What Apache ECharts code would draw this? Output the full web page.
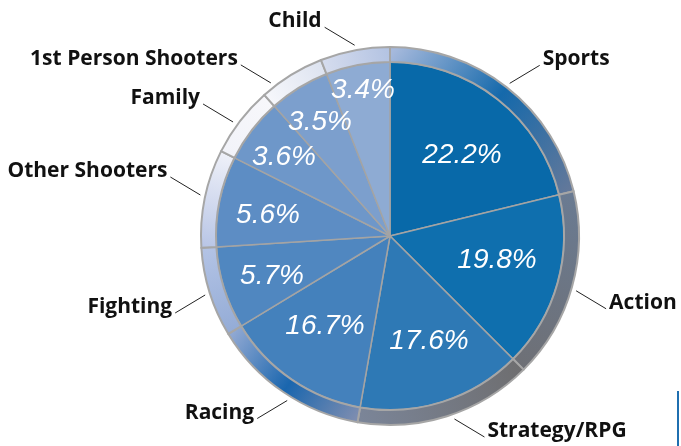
<!DOCTYPE html>
<html>
<head>
<meta charset="utf-8">
<script src="https://cdn.jsdelivr.net/npm/echarts@6/dist/echarts.min.js"></script>
<style>
  html, body { margin: 0; padding: 0; background: #fff; }
  #chart { width: 681px; height: 446px; }
</style>
</head>
<body>
<div id="chart"></div>
<script>
// categories, clockwise from 12 o'clock
const categories = ['Sports', 'Action', 'Strategy/RPG', 'Racing', 'Fighting', 'Other Shooters', 'Family', '1st Person Shooters', 'Child'];
// printed shares (%)
const shares = [22.2, 19.8, 17.6, 16.7, 5.7, 5.6, 3.6, 3.5, 3.4];
// slice sizes as drawn in the artwork (degrees) - the picture isn't drawn to scale
const sliceDegrees = [76.3, 58.7, 54.9, 48.9, 27.6, 30.3, 21.6, 20.3, 21.4];

const CX = 390, CY = 236;
const R_IN = 174, R_OUT = 189;

const sliceColors = ['#0869a9', '#0f6fae', '#2e79b5', '#4481bc', '#5087c0', '#5d8dc4', '#6e97c9', '#7c9fcd', '#8eabd3'];
// rim gradient stops, clockwise along each segment
const rimColors = [
  ['#a6b9dc', '#1569ab', '#62789a'],
  ['#6a7b92', '#6e7076'],
  ['#6e6e70', '#7b8598'],
  ['#7d8db0', '#1a66ae', '#90a8d2'],
  ['#94acd6', '#b3c3e5'],
  ['#b9c6e6', '#eef0f8'],
  ['#f2f3f9', '#f7f7fb'],
  ['#f6f7fb', '#dde3f0'],
  ['#d5dcee', '#b3c3e2']
];
// where the white percentages sit, relative to the pie centre
const pctOffsets = [[72, -81], [107, 24], [39, 105], [-65, 90], [-118, 40], [-122, -21], [-106, -79], [-70, -114], [-27, -146]];
// angle (deg) at which each leader line leaves the rim
const leaderAngles = [51.9, -16.4, -70.6, -122, -162.3, 167.8, 144, 127.9, 100.5];

const startAngles = [];
let acc = 90;
sliceDegrees.forEach(function (d) {
  startAngles.push(acc);
  acc -= d;
});

function rimGradient(i) {
  const a0 = startAngles[i] * Math.PI / 180;
  const a1 = (startAngles[i] - sliceDegrees[i]) * Math.PI / 180;
  const r = (R_IN + R_OUT) / 2;
  const cols = rimColors[i];
  const stops = cols.map(function (c, k) { return { offset: k / (cols.length - 1), color: c }; });
  return new echarts.graphic.LinearGradient(
    CX + r * Math.cos(a0), CY - r * Math.sin(a0),
    CX + r * Math.cos(a1), CY - r * Math.sin(a1),
    stops, true
  );
}

const chart = echarts.init(document.getElementById('chart'));

const option = {
  backgroundColor: '#fff',
  animation: false,
  series: [
    {
      type: 'pie',
      center: [CX, CY],
      radius: [0, R_IN],
      startAngle: 90,
      avoidLabelOverlap: false,
      silent: true,
      itemStyle: { borderColor: '#a4a4a4', borderWidth: 1.5 },
      label: {
        show: true,
        position: 'inside',
        color: '#fff',
        fontFamily: "'Liberation Sans', Arial, sans-serif",
        fontStyle: 'italic',
        fontSize: 28,
        formatter: function (p) { return shares[p.dataIndex].toFixed(1) + '%'; }
      },
      labelLayout: function (p) {
        const o = pctOffsets[p.dataIndex];
        return { x: CX + o[0], y: CY + o[1], align: 'center', verticalAlign: 'middle' };
      },
      data: categories.map(function (c, i) {
        return { name: c, value: sliceDegrees[i], itemStyle: { color: sliceColors[i] } };
      })
    },
    {
      type: 'pie',
      center: [CX, CY],
      radius: [R_IN, R_OUT],
      startAngle: 90,
      avoidLabelOverlap: false,
      silent: true,
      itemStyle: { borderColor: '#a6a6a6', borderWidth: 2 },
      label: {
        show: true,
        position: 'outside',
        color: '#111',
        fontFamily: "'Open Sans', sans-serif",
        fontWeight: 'bold',
        fontSize: 21,
        formatter: '{b}'
      },
      labelLine: { show: true, length: 8, length2: 4, lineStyle: { color: '#222', width: 1 } },
      labelLayout: function (p) {
        const i = p.dataIndex;
        const m = leaderAngles[i] * Math.PI / 180;
        const ux = Math.cos(m), uy = -Math.sin(m);
        const sx = ux < 0 ? -1 : 1, sy = uy < 0 ? -1 : 1;
        const x1 = CX + ux * (R_OUT + 5), y1 = CY + uy * (R_OUT + 5);
        const x2 = x1 + sx * 30, y2 = y1 + sy * 18;
        return {
          x: x2 + sx * 3,
          y: y2 - 6,
          align: sx < 0 ? 'right' : 'left',
          verticalAlign: 'middle',
          labelLinePoints: [[x1, y1], [x2, y2], [x2, y2]]
        };
      },
      data: categories.map(function (c, i) {
        return { name: c, value: sliceDegrees[i], itemStyle: { color: rimGradient(i) } };
      })
    }
  ],
  graphic: [
    { type: 'rect', shape: { x: 677, y: 391, width: 2, height: 55 }, style: { fill: '#1f6fb0' } }
  ]
};

chart.setOption(option);
</script>
</body>
</html>
